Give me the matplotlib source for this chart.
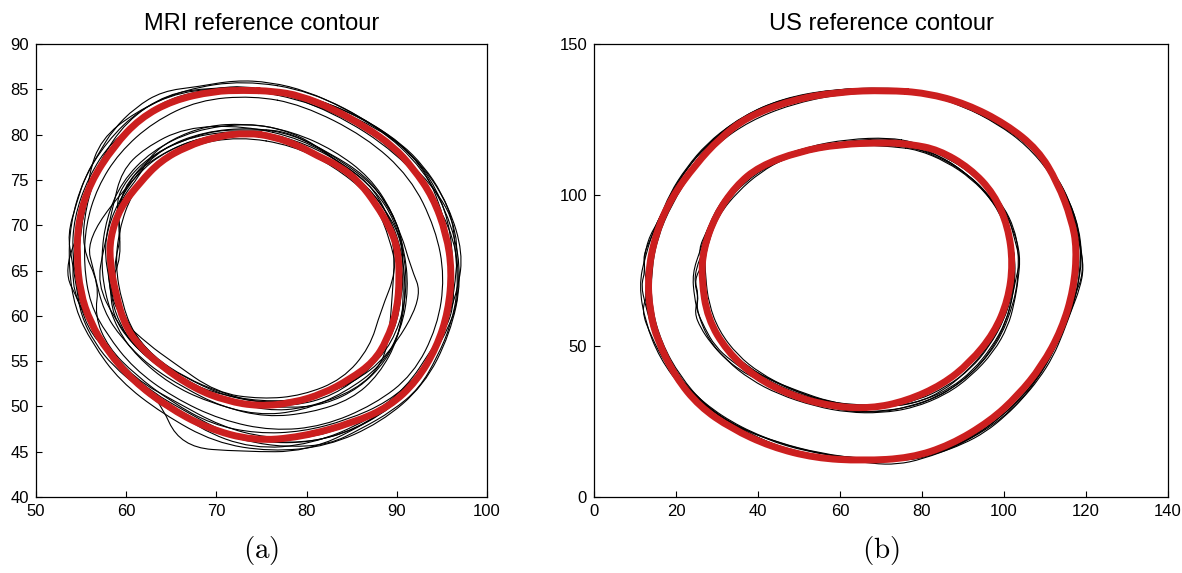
import numpy as np
import matplotlib
matplotlib.use("Agg")
import matplotlib.pyplot as plt
from matplotlib.path import Path
from matplotlib.patches import PathPatch

plt.rcParams['font.family'] = ['Liberation Sans', 'DejaVu Sans']
plt.rcParams['mathtext.fontset'] = 'cm'

# ---- MRI panel (a) ----
mri_outer_ref = [(73.0, 84.9), (69.7, 84.8), (65.2, 83.8), (61.5, 81.8), (58.6, 78.7), (56.0, 74.7),
                 (54.7, 70.6), (54.5, 66.6), (54.9, 62.6), (56.0, 59.3), (57.9, 56.1), (60.8, 52.8),
                 (64.5, 50.0), (68.9, 47.6), (74.1, 46.2), (79.3, 46.6), (85.2, 48.2), (89.2, 50.0),
                 (92.2, 52.8), (94.4, 56.5), (95.7, 60.5), (96.1, 65.0), (95.5, 69.0), (94.0, 73.1),
                 (91.8, 76.3), (89.6, 78.7), (86.6, 80.8), (83.0, 82.8), (79.3, 84.3), (76.3, 84.8)]
mri_inner_ref = [(73.4, 80.2), (70.0, 79.8), (66.7, 78.7), (63.8, 77.1), (61.5, 74.7), (59.3, 71.9),
                 (58.2, 68.6), (58.2, 65.8), (58.8, 62.6), (59.7, 59.3), (61.2, 56.9), (63.8, 54.5),
                 (67.5, 52.0), (71.1, 50.6), (74.8, 50.0), (78.5, 50.4), (81.8, 51.4), (84.8, 53.0),
                 (87.4, 54.9), (88.9, 57.3), (90.0, 60.5), (90.3, 64.2), (90.1, 67.4), (89.2, 69.8),
                 (87.7, 72.3), (85.9, 74.7), (83.7, 76.5), (81.1, 77.7), (79.3, 78.7), (76.3, 79.8)]

mri_outer_raters = [
    [(73, 86.0), (66.5, 85.0), (61.5, 82.8), (57.8, 79.2), (55.2, 75.0), (53.8, 70.2), (53.6, 65.5),
     (54.3, 60.8), (56.2, 57.0), (59.3, 52.8), (64.0, 49.2), (69.8, 46.0), (76, 45.0), (82.3, 45.6),
     (88.2, 48.2), (93.0, 52.3), (95.9, 58.0), (97.2, 64.0), (96.2, 70.0), (93.0, 76.2), (87.8, 81.0),
     (80.5, 84.8)],
    [(74, 84.3), (68, 83.8), (63, 81.4), (59.2, 78.0), (56.8, 74.2), (55.5, 70.0), (55.3, 65.6),
     (56.0, 61.3), (57.8, 58.0), (60.8, 54.2), (65.2, 51.0), (70.5, 48.5), (76.2, 47.3), (81.8, 47.8),
     (87.5, 50.2), (91.8, 53.5), (94.5, 58.8), (95.3, 64.3), (94.3, 69.6), (91.5, 75.3), (86.5, 79.8),
     (79.5, 83.3)],
    [(72.5, 85.2), (66, 84.8), (61, 82.5), (57.2, 79.5), (55.8, 75.5), (55.5, 71.0), (53.0, 65.0),
     (54.8, 61.5), (56.0, 58.0), (59.5, 54.5), (63.5, 51.0), (66.0, 45.5), (73, 45.0), (80, 45.0),
     (86.5, 48.0), (91.8, 51.8), (95.0, 57.0), (96.5, 63.0), (96.8, 69.5), (94.0, 74.5), (88.5, 79.5),
     (81, 83.5)],
    [(74.5, 85.5), (68.5, 85.0), (63.5, 83.5), (59.5, 80.0), (56.5, 76.0), (54.3, 71.0), (55.0, 66.5),
     (54.6, 61.5), (57.5, 57.0), (61.0, 53.0), (65.5, 50.5), (70.5, 47.8), (75.5, 46.5), (81.0, 46.5),
     (86.8, 48.8), (91.0, 52.0), (94.0, 56.5), (96.5, 60.5), (96.0, 67.0), (94.8, 72.5), (90.0, 78.0),
     (83.0, 82.5)],
    [(72, 84.8), (65.5, 84.0), (60.8, 81.5), (58.0, 77.5), (55.5, 73.5), (55.0, 69.0), (54.2, 64.0),
     (55.5, 59.5), (58.0, 56.0), (61.8, 52.2), (67.0, 48.8), (72.0, 46.8), (78.0, 45.8), (84.0, 46.8),
     (89.5, 49.8), (93.5, 54.0), (95.5, 59.5), (96.0, 65.5), (95.3, 71.0), (92.8, 76.8), (88.0, 80.8),
     (79, 84.5)],
    [(75, 85.2), (69.5, 85.2), (64.5, 84.5), (60.0, 81.5), (57.0, 77.0), (55.0, 72.5), (54.2, 67.5),
     (54.0, 62.5), (56.5, 58.5), (58.5, 55.0), (62.5, 51.8), (68.0, 47.5), (74.0, 45.3), (80.5, 45.8),
     (87.0, 48.5), (92.0, 52.5), (95.2, 57.5), (97.0, 62.0), (96.5, 68.5), (93.5, 74.0), (89.0, 79.0),
     (82.0, 83.5)],
    [(76, 85.8), (72, 86.0), (68, 85.3), (64, 84.8), (61, 83.0), (58.5, 80.5), (57, 78.0), (55.5, 75.5),
     (54.5, 72.5), (53.5, 69.0), (54.0, 66.0), (54.5, 63.0), (55.0, 60.0), (56.5, 57.0), (58.5, 54.5),
     (61.5, 52.0), (64.0, 50.0), (67.0, 48.5), (70.5, 47.0), (74.0, 46.0), (78.0, 45.5), (82.5, 45.8),
     (86.0, 47.5), (89.5, 49.5), (92.5, 52.0), (94.5, 55.5), (96.0, 59.0), (96.8, 63.0), (96.5, 67.0),
     (96.2, 70.5), (95.0, 73.5), (93.0, 76.5), (90.5, 79.0), (87.5, 81.0), (84.0, 83.0), (80.0, 84.8)],
    [(72, 85), (67, 84.5), (62.5, 82.5), (59, 79.5), (56.8, 76), (55.5, 72), (55.1, 67.5), (57, 63.5),
     (56.5, 60), (58, 56.5), (61, 53.5), (65, 50.5), (69.5, 48), (74.5, 47), (79.5, 47.2), (84.5, 48.5),
     (89, 50.5), (92.5, 53.5), (95, 58), (96.8, 63), (97.3, 67), (95.8, 72), (93, 76.5), (88.5, 80.5),
     (82.5, 83.5), (77, 85)],
    [(73.5, 85.0), (67.5, 84.3), (62.5, 82.3), (58.3, 79.2), (55.8, 75.3), (54.2, 70.8), (54.0, 66.5),
     (54.8, 62.2), (56.8, 58.0), (60.0, 54.0), (63.0, 51.5), (66.5, 49.5), (70.5, 47.3), (75.0, 46.0),
     (80.5, 46.0), (85.5, 47.5), (90.0, 50.5), (93.3, 54.5), (95.5, 59.5), (96.3, 65.0), (95.8, 70.5),
     (93.8, 75.2), (90.5, 79.0), (86.0, 82.0), (80.0, 84.3)],
]
mri_inner_raters = [
    [(73.5, 81.3), (67.5, 80.5), (62.8, 78.2), (59.5, 74.8), (57.8, 70.8), (57.2, 66.5), (57.6, 62.5),
     (59.0, 58.5), (61.2, 55.5), (64.8, 52.5), (69.0, 50.5), (74.5, 49.0), (79.5, 49.5), (84.2, 51.5),
     (88.3, 54.5), (90.5, 58.5), (91.3, 63.0), (90.8, 67.5), (89.5, 71.5), (87.0, 75.3), (83.0, 78.3),
     (78.5, 80.3)],
    [(73, 80.0), (68.5, 79.8), (64, 78.0), (60.0, 75.0), (59.0, 71.0), (59.5, 66.5), (58.0, 63.0),
     (59.5, 59.5), (62.5, 56.8), (65.0, 55.0), (70.0, 51.5), (75.0, 50.8), (79.5, 51.2), (84.0, 53.0),
     (87.0, 56.5), (88.2, 60.5), (90.0, 65.0), (89.2, 68.5), (87.8, 72.0), (85.0, 75.5), (81.0, 78.0),
     (77.5, 79.8)],
    [(74, 80.8), (68.5, 80.3), (64, 78.5), (61, 75.5), (58.5, 71.5), (57.5, 67.5), (56.8, 63.5),
     (58.8, 59.5), (61.5, 56.0), (65.0, 53.5), (69.5, 51.5), (75.0, 50.5), (80.0, 50.8), (85.0, 52.5),
     (89.0, 55.5), (92.9, 62.0), (91.5, 65.5), (90.5, 69.0), (88.8, 72.5), (86.5, 75.5), (82.5, 78.0),
     (78.5, 80.0)],
    [(72.5, 79.8), (67.0, 78.8), (63.0, 76.2), (60.6, 73.5), (59.2, 69.5), (58.8, 65.5), (59.5, 61.5),
     (60.8, 58.0), (63.5, 55.0), (67.0, 52.5), (71.0, 50.8), (75.5, 49.5), (80.0, 49.8), (85.5, 51.8),
     (88.5, 54.8), (89.2, 58.5), (89.5, 62.5), (89.8, 67.0), (89.0, 70.5), (86.8, 73.5), (83.0, 76.5),
     (78.5, 78.8)],
    [(73, 81.0), (66.5, 80.8), (62.0, 78.5), (59.5, 76.0), (58.5, 72.0), (57.5, 67.5), (58.2, 63.5),
     (58.5, 60.0), (60.5, 57.0), (64.0, 54.0), (68.0, 51.8), (73.0, 50.2), (78.5, 50.0), (83.0, 51.2),
     (86.8, 54.0), (89.5, 57.0), (91.0, 61.5), (91.0, 66.0), (89.8, 70.5), (87.5, 74.0), (84.0, 76.8),
     (79.5, 79.5)],
    [(74.5, 80.5), (69.5, 80.0), (64.5, 78.3), (61.0, 75.5), (55.5, 68.5), (56.5, 64.5), (57.5, 60.5),
     (59.5, 57.5), (62.5, 54.5), (66.5, 52.0), (70.5, 50.0), (75.5, 48.8), (80.5, 49.3), (85.0, 50.8),
     (88.0, 53.5), (90.2, 57.5), (90.8, 62.0), (90.5, 66.0), (89.5, 70.0), (87.5, 74.0), (84.5, 76.5),
     (80.0, 79.0)],
    [(73.0, 81.2), (69.0, 81.0), (65.0, 79.5), (62.5, 77.5), (61.5, 75.5), (59.5, 73.0), (58.5, 70.0),
     (58.0, 67.0), (58.0, 64.0), (59.0, 61.0), (60.0, 58.0), (62.5, 55.5), (66.0, 53.5), (70.0, 51.5),
     (74.0, 50.5), (78.0, 50.5), (82.0, 51.5), (85.5, 53.0), (88.0, 55.5), (89.8, 58.5), (90.5, 62.0),
     (90.8, 65.5), (90.3, 69.0), (88.5, 72.0), (86.5, 74.5), (83.5, 77.0), (80.0, 79.5), (76.5, 80.8)],
    [(72, 80.5), (66, 79.5), (62, 77), (59.8, 74), (58.4, 70), (57.9, 66), (58.3, 62), (59.3, 59),
     (61, 56.5), (63.5, 54.8), (66.5, 53), (70, 51.2), (74, 50.2), (78, 49.8), (82, 50.2), (85.8, 52),
     (88.8, 55), (90.4, 58.5), (91, 62.5), (90.6, 67), (89.2, 71), (87, 74), (84, 76.5), (80, 78.5),
     (76, 80)],
    [(74, 80.5), (70, 80.5), (66, 79.3), (62.5, 77.5), (60, 75), (58.8, 72.5), (59.5, 69), (58.6, 65.5),
     (59, 62), (60.5, 58.5), (63, 55.5), (66.5, 53.2), (70.5, 51.5), (75, 50.3), (79.5, 50.8), (84, 52),
     (87, 54), (89, 57), (90, 60.5), (90.5, 64.5), (90.7, 68), (89.5, 71.5), (87.3, 74.5), (84, 77),
     (80, 79.3), (77, 80.5)],
]

# ---- US panel (b) ----
us_outer_ref = [(71.4, 134.7), (59.7, 134.2), (48.1, 131.4), (37.4, 125.9), (30.6, 118.7), (24.8, 110.1),
                (18.9, 99.2), (15.0, 87.1), (13.1, 73.7), (13.6, 61.5), (15.5, 51.8), (19.9, 39.7),
                (25.7, 30.0), (33.5, 22.7), (43.2, 16.6), (53.9, 12.9), (65.5, 12.0), (77.2, 12.9),
                (86.9, 17.2), (96.6, 25.1), (103.4, 33.6), (109.2, 43.3), (114.1, 55.5), (117.0, 68.8),
                (117.8, 82.2), (116.5, 91.9), (113.1, 104.1), (108.3, 115.0), (100.5, 123.5),
                (90.8, 130.2), (81.1, 133.8)]
us_inner_ref = [(71.4, 117.4), (59.7, 116.8), (50.0, 114.4), (40.3, 109.5), (34.5, 102.9), (29.6, 93.1),
                (26.7, 82.2), (26.2, 72.5), (27.7, 59.1), (32.5, 48.2), (39.3, 39.7), (48.1, 33.6),
                (57.8, 30.0), (67.5, 29.3), (76.2, 31.8), (85.0, 37.2), (91.7, 44.5), (97.6, 54.3),
                (101.0, 65.2), (102.2, 77.3), (101.0, 89.5), (97.6, 100.4), (91.7, 108.9),
                (84.0, 115.0), (77.2, 116.8)]

us_outer_raters = [
    [(71, 135.5), (58, 135), (46, 132), (36, 126), (28, 117), (21, 104), (15.5, 92), (12.5, 80), (11, 70),
     (12.5, 58), (16, 46), (22, 35), (30, 26), (41, 18), (53, 13.5), (65, 11.5), (78, 12.5), (89, 17.5),
     (99, 27), (107.5, 39), (113.5, 52), (117, 66), (119.5, 74), (118.5, 86), (116, 98), (111.5, 109),
     (104.5, 120), (95.5, 128), (84, 133.5)],
    [(72, 134), (60, 133.5), (48, 130), (38, 124.5), (30, 117), (24, 108), (19, 97), (15.5, 86), (14, 75),
     (14, 63), (16.5, 51), (21, 40), (27, 30.5), (35, 23), (45, 16.5), (56, 12.8), (67, 12.2), (79, 13.5),
     (89, 19), (98, 27), (105, 36), (110.5, 47), (115, 59), (117.5, 71), (118, 82), (116.5, 93),
     (112.5, 105), (106.5, 116.5), (98, 125), (88, 131), (80, 133.5)],
    [(70, 135.5), (59, 135), (48.5, 132.5), (41, 128.5), (34, 124), (27.5, 117), (22.5, 109), (18.5, 100.5),
     (16, 92), (13, 85), (12, 76), (13.5, 68), (11.5, 62), (14, 53), (17.5, 44), (21.5, 37), (26.5, 30),
     (33, 24), (40, 19.5), (48, 15.5), (58, 13), (68, 11), (74, 10.8), (80, 12.5), (89, 17), (97, 24),
     (104, 32.5), (109.5, 42), (113, 51), (116.5, 62), (118, 70), (119, 78), (118.5, 88), (116, 98),
     (113, 106), (108, 114.5), (102, 121), (94, 127.5), (84, 132.5), (77, 135)],
    [(73, 134.5), (63, 134.8), (52, 133.5), (42, 129.5), (34, 123), (26.5, 113.5), (20, 101), (16.5, 91),
     (14.5, 80), (12.5, 70), (12.8, 62), (15.5, 52), (19.5, 41), (25.5, 32), (32, 25.5), (42, 19), (52, 15),
     (62, 13), (72, 12.8), (82, 14), (91, 18.5), (99.5, 26.5), (106.5, 36), (112, 48), (115.5, 58.5),
     (117.5, 66), (118.5, 74), (118.8, 84), (117, 95), (113.5, 104), (107.5, 115), (100, 122.5), (91, 129),
     (82, 133.5)],
    [(68, 134.3), (56, 134.2), (45, 131.5), (35.5, 125.5), (29.5, 119), (25, 111.5), (20, 102.5), (17, 94),
     (15, 85), (14, 77), (13.2, 67), (14.5, 57), (17, 49), (20.5, 40.5), (25, 33), (30.5, 27), (37, 21.5),
     (46, 16), (56, 13), (64, 11.8), (72, 12), (81, 13.5), (88.5, 17), (96, 23.5), (102, 31), (108, 40),
     (113, 52), (116, 62), (118, 74), (117.2, 86), (115, 97), (111.5, 107), (105.5, 116.5), (98.5, 123.5),
     (90, 129.5), (80, 133.8)],
    [(70, 134.8), (62, 134.5), (54, 133.5), (47, 131), (41, 128), (35.5, 124.5), (31, 120), (27, 115.5),
     (24, 111), (21.5, 106.5), (19, 101), (17.5, 96.5), (15.5, 91), (14, 86), (12, 80), (12.5, 75),
     (11.5, 70), (12.5, 64), (13.5, 59), (14.5, 54), (16.5, 48.5), (18.5, 43.5), (21.5, 38.5), (25, 33.5),
     (29, 29), (33.5, 25), (38.5, 21.5), (44, 18.5), (50, 16), (57, 14), (63, 12.5), (70, 12.5), (77, 12),
     (84, 14.5), (90, 17.5), (95.5, 21.5), (100.5, 27), (104.5, 32.5), (108.5, 39), (112, 46.5),
     (114.5, 54.5), (116.5, 62), (118.5, 69), (119.5, 76), (118.5, 83), (117.5, 90), (116, 97.5),
     (113.5, 104.5), (110, 111.5), (106, 117.5), (101, 122.5), (95.5, 127), (89, 130.5), (82, 133.5),
     (76, 135)],
    [(74, 135.2), (64, 135.3), (53, 133.8), (43, 130), (35, 124.5), (28.5, 118), (23, 109.5), (18.5, 99.5),
     (15, 89), (13, 78), (12.8, 67), (14, 56), (17.5, 45.5), (22.5, 36), (28.5, 28.5), (36, 22.5), (45, 18),
     (55, 14.5), (66, 12.5), (76, 12.3), (86, 15.5), (95, 21.5), (102.5, 29.5), (108, 38.5), (112.5, 49),
     (116, 60), (117.8, 71), (118.5, 80), (117.5, 90), (114.5, 101), (109.5, 111.5), (103, 120),
     (94.5, 127), (85, 132)],
]
us_inner_raters = [
    [(72, 119), (62, 118.5), (52, 116), (43, 111.5), (36, 105), (31, 98), (28, 90), (26, 82), (24, 74),
     (24.5, 66), (25.5, 60), (28, 52), (32.5, 45), (38, 39), (45, 34), (54, 30), (62, 28), (70, 27.8),
     (78, 29.5), (86, 34), (92, 40), (97.5, 48), (101, 56.5), (102.5, 64), (103.5, 72), (104, 80),
     (102.5, 88), (99.5, 96), (95.5, 103), (90, 109.5), (82, 115.5), (78, 117.5)],
    [(70, 116.5), (59, 116), (50, 113.5), (42, 110), (36.5, 104.5), (31.5, 97), (28.5, 89), (27, 81),
     (27.2, 73), (28, 64), (30.5, 55), (35, 47), (40.5, 41), (47.5, 36), (55.5, 32), (63, 30.5), (70, 30.5),
     (78, 32.5), (85.5, 37), (91, 43), (96, 51), (99.5, 59), (101.5, 68), (102, 77), (101.5, 86), (99, 94),
     (95.5, 101), (91, 107), (84.5, 113), (77, 116)],
    [(74, 118.5), (66, 118.5), (58, 117), (51, 115.5), (44, 112), (39, 107.5), (35, 104), (32, 99.5),
     (29.5, 94), (27.5, 88), (25.5, 82), (26.5, 77), (24.5, 72), (25.5, 67), (25, 62), (27, 56), (29.5, 50),
     (33.5, 45), (38.5, 40.5), (44, 37), (51, 33), (57, 30), (63, 28.5), (70, 28), (77, 30), (83.5, 33),
     (89.5, 38), (94, 43.5), (98, 51), (100.5, 58), (102, 66), (103, 73), (104, 78), (102.5, 86),
     (101, 93.5), (97.5, 100), (93, 106), (87.5, 111.5), (80, 116)],
    [(71, 117.8), (60, 117.5), (50, 114.8), (41.5, 110.5), (35, 104), (30.5, 96.5), (27.8, 88), (26.5, 80),
     (26, 71), (27.5, 61), (31, 52), (36, 44.5), (42.5, 39), (50, 35), (57.5, 31.5), (65, 30), (72, 30.2),
     (79, 32), (86, 36.5), (92, 42.5), (96.5, 50), (100, 58.5), (102, 67), (102.8, 76), (102, 85),
     (99.8, 93), (96, 100.5), (91.5, 106.5), (85, 112.5), (78, 116.5)],
    [(73, 116), (64, 116.8), (55, 115.5), (47, 112.5), (40.5, 107.5), (35, 101), (30.5, 93.5), (28, 85),
     (26.8, 77), (26.5, 69), (27.5, 61), (29.5, 54), (34, 46.5), (40, 40.5), (47, 35.5), (55, 32),
     (63, 29.5), (71, 29.8), (78.5, 31), (85, 35), (90.5, 41), (95.5, 48.5), (99, 56), (101, 63),
     (102.8, 72), (102.5, 82), (100.5, 91), (97, 98.5), (92, 105.5), (86, 111), (79, 115)],
    [(70, 118), (63, 117.8), (56, 116.5), (49, 114.5), (43.5, 111.5), (38.5, 107.5), (34.5, 103),
     (31.5, 98), (29, 92.5), (27.5, 87), (26.5, 81), (25, 76), (24.5, 71), (25.5, 66), (24.5, 61), (26, 56),
     (28.5, 51), (31.5, 46.5), (35.5, 42), (40.5, 38.5), (46, 35.5), (52, 32.5), (58, 29.5), (64, 28),
     (70, 28.5), (76, 29.5), (82, 32), (87.5, 36), (92.5, 41.5), (96.5, 47.5), (99.5, 54), (101.5, 61),
     (103, 68), (103.5, 75), (103.5, 82), (102.5, 89), (100, 96), (96.5, 102), (92, 107.5), (86.5, 112),
     (80, 116), (75, 117.8)],
    [(71, 117), (61, 116.5), (51, 114), (43, 110), (37, 104.5), (32.5, 98), (29, 90.5), (27, 82.5),
     (26.5, 74), (27, 65.5), (29, 57), (32.5, 49.5), (37.5, 43), (44, 38), (51, 34), (58.5, 31), (66, 29.8),
     (73.5, 30), (80.5, 32), (87, 36), (92.5, 42), (97, 49.5), (100.5, 58), (102.3, 67), (102.8, 76),
     (102, 85.5), (99.5, 94), (95.5, 101.5), (90, 108), (83.5, 113), (77, 116)],
]

red = '#cc1f1f'


def draw_closed(ax, pts, color, lw):
    # closed smooth outline: the read points act as quadratic Bezier control points
    p = np.array(pts, dtype=float)
    mids = (p + np.roll(p, -1, axis=0)) / 2
    verts = [mids[-1]]
    codes = [Path.MOVETO]
    for i in range(len(p)):
        verts += [p[i], mids[i]]
        codes += [Path.CURVE3, Path.CURVE3]
    ax.add_patch(PathPatch(Path(verts, codes), fill=False, edgecolor=color, lw=lw,
                           joinstyle='round', capstyle='round'))


def style(ax, xlim, ylim, xticks, yticks, title):
    ax.set_xlim(xlim)
    ax.set_ylim(ylim)
    ax.set_xticks(xticks)
    ax.set_yticks(yticks)
    ax.tick_params(direction='in', length=4, width=0.8, top=False, right=False,
                   labelsize=12, pad=5)
    for s in ax.spines.values():
        s.set_linewidth(0.9)
    ax.set_title(title, fontsize=17, pad=10)


fig = plt.figure(figsize=(11.82, 5.73), dpi=100)
ax1 = fig.add_axes([0.0305, 0.1326, 0.3816, 0.7906])
ax2 = fig.add_axes([0.5025, 0.1326, 0.4856, 0.7906])

for c in mri_outer_raters + mri_inner_raters:
    draw_closed(ax1, c, 'black', 0.8)
draw_closed(ax1, mri_outer_ref, red, 5)
draw_closed(ax1, mri_inner_ref, red, 5)
style(ax1, (50, 100), (40, 90), range(50, 101, 10), range(40, 91, 5), 'MRI reference contour')

for c in us_outer_raters + us_inner_raters:
    draw_closed(ax2, c, 'black', 0.8)
draw_closed(ax2, us_outer_ref, red, 5)
draw_closed(ax2, us_inner_ref, red, 5)
style(ax2, (0, 140), (0, 150), range(0, 141, 20), range(0, 151, 50), 'US reference contour')

fig.text(0.2213, 0.04, r'$\mathrm{(a)}$', fontsize=21, ha='center', va='center')
fig.text(0.7453, 0.04, r'$\mathrm{(b)}$', fontsize=21, ha='center', va='center')

fig.savefig('out.png', dpi=100)
